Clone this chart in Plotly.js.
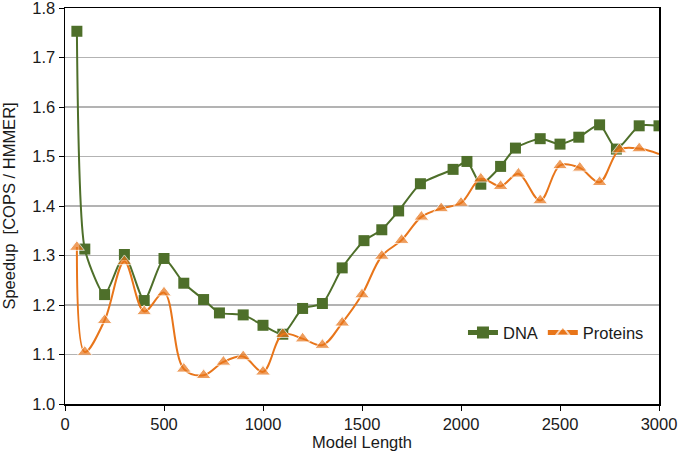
<!DOCTYPE html>
<html>
<head>
<meta charset="utf-8">
<script src="https://cdn.plot.ly/plotly-3.0.1.min.js"></script>
<style>html,body{margin:0;padding:0;background:#fff;}#chart{width:685px;height:453px;}</style>
</head>
<body>
<div id="chart"></div>
<script>
const dnaX = [60, 100, 200, 300, 400, 500, 600, 700, 780, 900, 1000, 1100, 1200, 1300, 1400, 1510, 1600, 1685, 1795, 1960, 2030, 2100, 2200, 2275, 2400, 2500, 2595, 2700, 2785, 2900, 3000];
const dnaY = [1.753, 1.313, 1.221, 1.302, 1.209, 1.294, 1.244, 1.211, 1.184, 1.180, 1.159, 1.141, 1.193, 1.203, 1.275, 1.330, 1.352, 1.390, 1.445, 1.474, 1.490, 1.444, 1.480, 1.517, 1.536, 1.525, 1.539, 1.564, 1.515, 1.562, 1.562];
const protX = [60, 100, 200, 300, 400, 500, 600, 700, 800, 900, 1000, 1100, 1200, 1300, 1400, 1500, 1600, 1700, 1800, 1900, 2000, 2100, 2200, 2290, 2400, 2500, 2600, 2700, 2800, 2900, 3000];
const protY = [1.317, 1.105, 1.169, 1.288, 1.187, 1.225, 1.071, 1.058, 1.085, 1.096, 1.065, 1.141, 1.132, 1.119, 1.164, 1.221, 1.299, 1.331, 1.378, 1.395, 1.406, 1.455, 1.440, 1.465, 1.411, 1.482, 1.477, 1.448, 1.514, 1.516, 1.505];
const yTicks = [1.0, 1.1, 1.2, 1.3, 1.4, 1.5, 1.6, 1.7, 1.8];
const xTicks = [0, 500, 1000, 1500, 2000, 2500, 3000];

const font = {family: 'Liberation Sans, Arial, sans-serif', size: 16.5, color: '#1a1a1a'};
const protSizes = protY.map((v, i) => i === protY.length - 1 ? 0 : 13);

const traces = [
  {x: dnaX, y: dnaY, name: 'DNA', type: 'scatter', mode: 'lines+markers',
   line: {color: '#4e6f2a', width: 2, shape: 'spline', smoothing: 0.6},
   marker: {symbol: 'square', size: 11, color: '#4e6f2a'}},
  {x: protX, y: protY, name: 'Proteins', type: 'scatter', mode: 'lines+markers',
   line: {color: '#e8751a', width: 2, shape: 'spline', smoothing: 1},
   marker: {symbol: 'triangle-up', size: protSizes, color: '#e8751a'}}
];

const layout = {
  width: 685, height: 453,
  margin: {l: 65, r: 26, t: 8, b: 49},
  paper_bgcolor: '#fff', plot_bgcolor: '#fff',
  font: font,
  showlegend: true,
  legend: {x: 0.67, y: 0.18, xanchor: 'left', yanchor: 'middle', orientation: 'h',
           bgcolor: 'rgba(0,0,0,0)', font: font, itemwidth: 30, itemsizing: 'constant'},
  xaxis: {range: [0, 3000], tickmode: 'array', tickvals: xTicks, showgrid: false, zeroline: false,
          showline: true, linecolor: '#000', linewidth: 1.5, mirror: true,
          ticks: 'outside', ticklen: 5, tickcolor: '#000', ticklabeloverflow: 'allow',
          title: {text: 'Model Length', font: font, standoff: 4}},
  yaxis: {range: [1.0, 1.8], tickmode: 'array', tickvals: yTicks,
          ticktext: yTicks.map(v => v.toFixed(1)), ticklabeloverflow: 'allow',
          showgrid: true, gridcolor: '#b3b3b3', gridwidth: 1.2, zeroline: false,
          showline: true, linecolor: '#000', linewidth: 1.5, mirror: true,
          ticks: 'outside', ticklen: 5, tickcolor: '#000',
          title: {text: 'Speedup  [COPS / HMMER]', font: font, standoff: 12}}
};

Plotly.newPlot('chart', traces, layout, {displayModeBar: false, staticPlot: true});
</script>
</body>
</html>
